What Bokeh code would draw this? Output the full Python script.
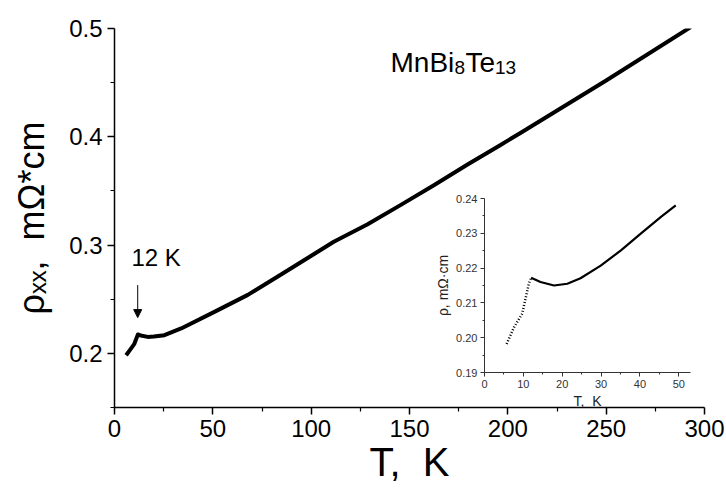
import math
from bokeh.plotting import figure
from bokeh.models import (Range1d, FixedTicker, PrintfTickFormatter, Label, Arrow,
                          NormalHead, LinearAxis)
from bokeh.embed import file_html
from bokeh.resources import INLINE

# ---------------- data ----------------
main_T = [5.9, 8.0, 10.0, 11.9, 14.0, 16.9, 20.0, 25.4, 33.9, 50.8, 67.8, 84.7,
          101.5, 111.5, 128.5, 145.4, 162.4, 179.3, 196.3, 206.4, 250.0, 293.0]
main_rho = [0.1983, 0.2035, 0.2085, 0.2174, 0.2162, 0.2152, 0.2155, 0.2168, 0.2230,
            0.2383, 0.2540, 0.2728, 0.2918, 0.3030, 0.3190, 0.3369, 0.3553, 0.3742,
            0.3925, 0.4035, 0.4520, 0.5013]

inset_T = [5.7, 7.6, 9.7, 11.4, 12.0, 14.4, 17.9, 21.3, 24.7, 29.9, 35.1, 40.2, 45.4, 49.2]
inset_rho = [0.1982, 0.2030, 0.2069, 0.2155, 0.2172, 0.2160, 0.2150, 0.2155, 0.2171,
             0.2207, 0.2251, 0.2299, 0.2347, 0.2380]

x_ticks = [0, 50, 100, 150, 200, 250, 300]
x_minor = [25, 75, 125, 175, 225, 275]
y_ticks = [0.2, 0.3, 0.4, 0.5]
y_minor = [0.15, 0.25, 0.35, 0.45]

in_x_ticks = [0, 10, 20, 30, 40, 50]
in_x_minor = [5, 15, 25, 35, 45]
in_y_ticks = [0.19, 0.20, 0.21, 0.22, 0.23, 0.24]
in_y_minor = [0.195, 0.205, 0.215, 0.225, 0.235]

FONT = "Liberation Sans"
NB = "\u00a0"

# ---------------- main figure ----------------
W, H = 726, 489
L, R, T, B = 114, 22, 28, 82
p = figure(width=W, height=H, output_backend="svg", toolbar_location=None,
           x_range=Range1d(0, 300), y_range=Range1d(0.15, 0.5),
           min_border_left=L, min_border_right=R, min_border_top=T, min_border_bottom=B)
p.outline_line_color = None
p.xgrid.visible = False
p.ygrid.visible = False
p.background_fill_color = "white"
p.border_fill_color = "white"

for ax in (p.xaxis[0], p.yaxis[0]):
    ax.axis_line_width = 1.5
    ax.axis_line_color = "black"
    ax.major_tick_line_color = "black"
    ax.minor_tick_line_color = "black"
    ax.major_tick_line_width = 1.5
    ax.minor_tick_line_width = 1.2
    ax.major_tick_out = 7
    ax.major_tick_in = 0
    ax.minor_tick_out = 4
    ax.minor_tick_in = 0
    ax.major_label_text_font = FONT
    ax.major_label_text_font_size = "24px"
    ax.major_label_text_color = "black"
    ax.major_label_standoff = 5
    ax.axis_label_text_font = FONT
    ax.axis_label_text_font_style = "normal"
    ax.axis_label_text_color = "black"

p.xaxis.ticker = FixedTicker(ticks=x_ticks, minor_ticks=x_minor)
p.yaxis.ticker = FixedTicker(ticks=y_ticks, minor_ticks=y_minor)
p.yaxis.formatter = PrintfTickFormatter(format="%.1f")
p.xaxis.axis_label = "T," + NB + NB + "K"
p.xaxis.axis_label_text_font_size = "40px"
p.xaxis.axis_label_standoff = 0
p.yaxis.axis_label = "ρₓₓ," + NB + NB + "mΩ*cm"
p.yaxis.axis_label_text_font_size = "36px"
p.yaxis.axis_label_standoff = 14

p.line(main_T, main_rho, line_color="black", line_width=4, line_join="round")

# annotations
p.add_layout(Label(x=8.6, y=0.2888, text="12 K", text_font=FONT, text_font_size="24px",
                   text_color="black", text_align="left", text_baseline="alphabetic"))
p.add_layout(Arrow(x_start=11.8, y_start=0.263, x_end=11.8, y_end=0.233,
                   line_color="black", line_width=1,
                   end=NormalHead(size=8, fill_color="black", line_color="black")))

fx, fy = 276, 345
def lab(x, y, text, size):
    p.add_layout(Label(x=x, y=y, x_units="screen", y_units="screen", text=text,
                       text_font=FONT, text_font_size=f"{size}px", text_color="black",
                       text_align="left", text_baseline="alphabetic"))

lab(fx, fy, "MnBi", 28)
lab(fx + 64.0, fy - 5, "8", 19)
lab(fx + 75.0, fy, "Te", 28)
lab(fx + 104.5, fy - 5, "13", 19)

# ---------------- inset (extra ranges, axes fixed inside the frame) ----------------
# inset frame: T 0..53 -> px 484..690, rho 0.19..0.24 -> px 372..198
px_per_K = 3.887
px_per_r = 3480.0
ix0 = -(484 - L) / px_per_K
ix1 = (W - R - 484) / px_per_K
iy0 = 0.19 - (407 - 372) / px_per_r
iy1 = 0.24 + (198 - T) / px_per_r
p.extra_x_ranges = {"ix": Range1d(ix0, ix1)}
p.extra_y_ranges = {"iy": Range1d(iy0, iy1)}

INS = "#333333"
iax_x = LinearAxis(x_range_name="ix", y_range_name="iy", fixed_location=0.19,
                   bounds=(0, 53))
iax_y = LinearAxis(x_range_name="ix", y_range_name="iy", fixed_location=0,
                   bounds=(0.19, 0.24))
for ax in (iax_x, iax_y):
    ax.axis_line_color = INS
    ax.axis_line_width = 1
    ax.major_tick_line_color = INS
    ax.minor_tick_line_color = INS
    ax.major_tick_out = 4
    ax.major_tick_in = 0
    ax.minor_tick_out = 2
    ax.minor_tick_in = 0
    ax.major_label_text_font = FONT
    ax.major_label_text_font_size = "11px"
    ax.major_label_text_color = INS
    ax.major_label_standoff = 3
    ax.axis_label_text_font = FONT
    ax.axis_label_text_font_style = "normal"
    ax.axis_label_text_color = "#222222"
    ax.axis_label_text_font_size = "14px"
    ax.axis_label_standoff = 2
iax_x.ticker = FixedTicker(ticks=in_x_ticks, minor_ticks=in_x_minor)
iax_y.ticker = FixedTicker(ticks=in_y_ticks, minor_ticks=in_y_minor)
iax_y.formatter = PrintfTickFormatter(format="%.2f")
iax_x.axis_label = "T," + NB + NB + "K"
iax_y.axis_label = "ρ, mΩ·cm"
p.add_layout(iax_x, "below")
p.add_layout(iax_y, "left")

p.line(inset_T[:5], inset_rho[:5], line_color="black", line_width=2.5, line_dash="1 2",
       x_range_name="ix", y_range_name="iy")
p.line(inset_T[4:], inset_rho[4:], line_color="black", line_width=2.2,
       x_range_name="ix", y_range_name="iy")

open("out.html", "w").write(file_html(p, INLINE))
